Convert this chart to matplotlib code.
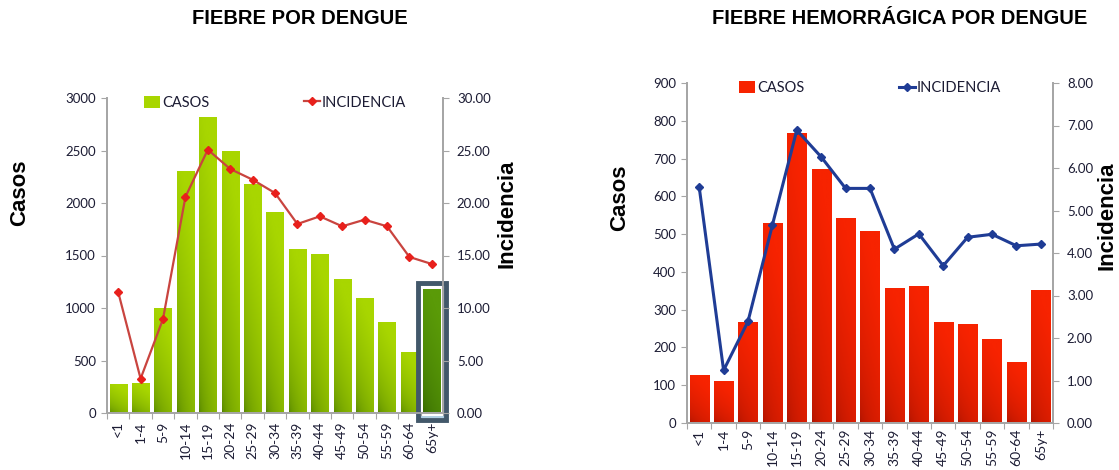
import matplotlib
matplotlib.use('Agg')

import numpy as np
import matplotlib.pyplot as plt
from matplotlib.colors import to_rgb
from matplotlib.patches import Rectangle, Patch
from matplotlib.lines import Line2D

GRUPOS = ['<1', '1-4', '5-9', '10-14', '15-19', '20-24', '25-29', '30-34',
          '35-39', '40-44', '45-49', '50-54', '55-59', '60-64', '65y+']

# fiebre por dengue
fd_casos = [270, 285, 1000, 2300, 2810, 2490, 2180, 1910, 1560, 1510,
            1275, 1095, 865, 575, 1175]
fd_incidencia = [11.52, 3.27, 8.95, 20.57, 25.08, 23.24, 22.22, 20.95,
                 18.00, 18.73, 17.78, 18.41, 17.78, 14.86, 14.19]

# fiebre hemorragica por dengue
fhd_casos = [127, 111, 266, 527, 767, 672, 541, 506, 356, 361,
             266, 261, 221, 160, 351]
fhd_incidencia = [5.55, 1.24, 2.39, 4.66, 6.89, 6.26, 5.52, 5.52,
                  4.09, 4.45, 3.70, 4.37, 4.44, 4.17, 4.21]

NARROW = ['Lato', 'DejaVu Sans']
BOLD = ['Liberation Sans', 'DejaVu Sans']
TXT = '#1c1c34'
AXIS = '#a6a6a6'


def gradient_fill(ax, bar, dark, light):
    """Excel style fill: dark at the bottom left, light at the top right."""
    x0, y0 = bar.get_x(), bar.get_y()
    w, h = bar.get_width(), bar.get_height()
    gx, gy = np.meshgrid(np.linspace(0, 1, 24), np.linspace(0, 1, 80))
    t = np.clip(0.35 * gx + 0.9 * gy, 0, 1) ** 0.4
    c0, c1 = np.array(to_rgb(dark)), np.array(to_rgb(light))
    img = c0 + (c1 - c0) * t[..., None]
    ax.imshow(img, extent=[x0, x0 + w, y0, y0 + h], origin='lower',
              aspect='auto', zorder=2, interpolation='bilinear')
    bar.set_facecolor('none')


def draw_chart(ax, casos, incidencia, ymax, ystep, imax, istep,
               dark, light, line_color, marker_color, lw, ms, width, xfs,
               xpad):
    n = len(GRUPOS)
    x = np.arange(n)
    bars = ax.bar(x, casos, width=width, linewidth=0, zorder=2)
    for b in bars:
        gradient_fill(ax, b, dark, light)
    ax.set_xlim(-0.5, n - 0.5)
    ax.set_ylim(0, ymax)
    ax.set_yticks(np.arange(0, ymax + 1, ystep))

    ax.set_xticks(np.arange(-0.5, n, 1))
    ax.set_xticklabels([])
    ax.set_xticks(x, minor=True)
    ax.set_xticklabels(GRUPOS, minor=True, rotation=90, fontsize=xfs,
                       family=NARROW, color=TXT)
    ax.tick_params(axis='x', which='minor', length=0, pad=xpad)
    ax.tick_params(axis='x', which='major', length=4, color=AXIS)
    ax.tick_params(axis='y', length=4, color=AXIS, labelsize=9.5,
                   labelcolor=TXT, pad=4)
    for lbl in ax.get_yticklabels():
        lbl.set_family(NARROW)

    ax2 = ax.twinx()
    ax2.plot(x, incidencia, color=line_color, lw=lw, marker='D', ms=ms,
             mfc=marker_color, mec=marker_color, zorder=3)
    ax2.set_ylim(0, imax)
    ax2.set_yticks(np.arange(0, imax + 0.01, istep))
    ax2.set_yticklabels(['%.2f' % v for v in np.arange(0, imax + 0.01, istep)],
                        family=NARROW)
    ax2.tick_params(axis='y', length=4, color=AXIS, labelsize=9.5,
                    labelcolor=TXT, pad=6)

    for a in (ax, ax2):
        a.spines['top'].set_visible(False)
        for s in ('left', 'right', 'bottom'):
            a.spines[s].set_color(AXIS)
            a.spines[s].set_linewidth(1.3)

    handles = [Patch(facecolor=light, edgecolor='none'),
               Line2D([], [], color=line_color, lw=lw, marker='D', ms=ms,
                      mfc=marker_color, mec=marker_color)]
    ax2.legend(handles, ['CASOS', 'INCIDENCIA'], loc='center',
               bbox_to_anchor=(0.5, 0.985), ncol=2, frameon=False,
               prop={'family': NARROW, 'size': 10.5}, labelcolor=TXT,
               handlelength=1.1, handleheight=0.9, handletextpad=0.1,
               columnspacing=6.5, borderpad=0)
    return ax, ax2


fig = plt.figure(figsize=(11.19, 4.70), dpi=100)

ax_l = fig.add_axes([107 / 1119, 1 - 413 / 470, 336 / 1119, 315 / 470])
draw_chart(ax_l, fd_casos, fd_incidencia, 3000, 500, 30, 5,
           '#4c7c00', '#a8d600', '#c9443f', '#e8201c', 1.6, 3.8, 0.76, 10, 6)

# resaltado del grupo de 65 y mas
ax_l.patches[-1].set_visible(False)
hl = ax_l.bar([14], [fd_casos[-1]], width=0.78, linewidth=0, zorder=2)[0]
gradient_fill(ax_l, hl, '#2f6000', '#5a9a08')
ax_l.set_ylim(0, 3000)
ax_l.set_xlim(-0.5, 14.5)
ax_l.add_patch(Rectangle((14 - 0.6, -40), 1.2, fd_casos[-1] + 80, fill=False,
                         edgecolor='#a9cbe2', lw=1.3, zorder=4, clip_on=False))
ax_l.add_patch(Rectangle((14 - 0.62, -70), 1.24, fd_casos[-1] + 130,
                         fill=False, edgecolor='#42586a', lw=3.5, zorder=4,
                         clip_on=False))

ax_r = fig.add_axes([687 / 1119, 1 - 423 / 470, 366 / 1119, 340 / 470])
draw_chart(ax_r, fhd_casos, fhd_incidencia, 900, 100, 8, 1,
           '#a51200', '#f72300', '#1f3c95', '#1f3c95', 2.2, 4.5, 0.78, 10, 4)

fig.text(300 / 1119, 1 - 19 / 470, 'FIEBRE POR DENGUE', ha='center',
         va='center', fontsize=14.5, fontweight='bold', family=BOLD,
         color='black')
fig.text(900 / 1119, 1 - 19 / 470, 'FIEBRE HEMORRÁGICA POR DENGUE',
         ha='center', va='center', fontsize=14.5, fontweight='bold',
         family=BOLD, color='black')

for xp, yp, txt in [(20, 193, 'Casos'), (507, 214, 'Incidencia'),
                    (620, 198, 'Casos'), (1107, 216, 'Incidencia')]:
    fig.text(xp / 1119, 1 - yp / 470, txt, rotation=90, ha='center',
             va='center', fontsize=16, fontweight='bold', family=BOLD,
             color='black')

fig.savefig('out.png', dpi=100)
